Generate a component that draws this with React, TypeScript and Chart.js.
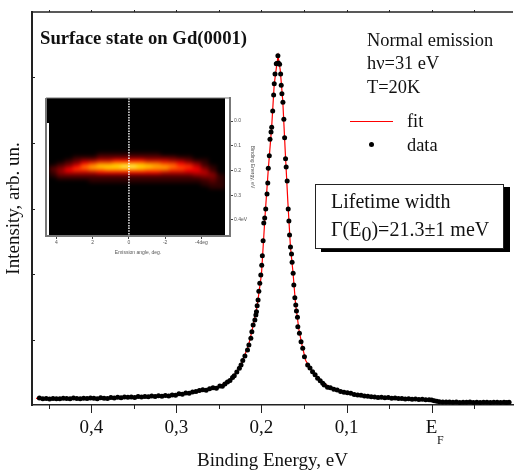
import React, { useEffect, useRef } from "react";
import { Chart, registerables } from "chart.js";

Chart.register(...registerables);

const SERIF = "'Liberation Serif', serif";
const SANS = "'Liberation Sans', sans-serif";

const dataEnergy = [
  0.461, 0.457, 0.453, 0.449, 0.445, 0.441, 0.437, 0.433, 0.429, 0.425, 0.421, 0.417, 0.413, 0.409, 0.405, 0.401, 0.397, 0.393, 0.389, 0.385,
  0.381, 0.377, 0.373, 0.369, 0.365, 0.361, 0.357, 0.353, 0.349, 0.345, 0.341, 0.337, 0.333, 0.329, 0.325, 0.321, 0.317, 0.313, 0.309, 0.305,
  0.301, 0.297, 0.293, 0.289, 0.285, 0.281, 0.277, 0.273, 0.269, 0.265, 0.261, 0.257, 0.253, 0.249, 0.246, 0.243, 0.24, 0.237, 0.234, 0.232,
  0.229, 0.226, 0.224, 0.222, 0.2195, 0.2164, 0.2148, 0.2125, 0.2113, 0.2098, 0.2078, 0.2066, 0.2059, 0.2051, 0.204, 0.2031, 0.202, 0.2008,
  0.1997, 0.199, 0.1981, 0.1973, 0.1962, 0.195, 0.1935, 0.1926, 0.192, 0.1908, 0.19, 0.1888, 0.188, 0.1868, 0.1857, 0.185, 0.1841, 0.1826,
  0.1818, 0.1807, 0.1801, 0.1787, 0.1775, 0.1768, 0.176, 0.1748, 0.1737, 0.1728, 0.1717, 0.171, 0.1698, 0.1686, 0.1678, 0.167, 0.1659, 0.1647,
  0.164, 0.1628, 0.162, 0.1608, 0.1597, 0.1589, 0.1577, 0.1573, 0.1554, 0.1535, 0.1515, 0.1495, 0.1457, 0.143, 0.14, 0.137, 0.134, 0.131,
  0.128, 0.1262, 0.1224, 0.119, 0.115, 0.111, 0.107, 0.103, 0.099, 0.095, 0.091, 0.087, 0.083, 0.079, 0.075, 0.071, 0.067, 0.063, 0.059, 0.055,
  0.051, 0.047, 0.043, 0.039, 0.035, 0.031, 0.027, 0.023, 0.019, 0.015, 0.011, 0.007, 0.003, 0, -0.003, -0.006, -0.009, -0.013, -0.017, -0.021,
  -0.025, -0.029, -0.033, -0.037, -0.041, -0.045, -0.049, -0.053, -0.057, -0.061, -0.065, -0.069, -0.073, -0.077, -0.081, -0.085, -0.088, -0.091,
];
const dataIntensity = [
  0.105, 0.095, 0.098, 0.092, 0.101, 0.097, 0.094, 0.104, 0.099, 0.095, 0.106, 0.101, 0.096, 0.103, 0.098, 0.108, 0.102, 0.097, 0.11, 0.104,
  0.099, 0.113, 0.106, 0.118, 0.11, 0.124, 0.117, 0.122, 0.114, 0.128, 0.121, 0.131, 0.125, 0.137, 0.13, 0.141, 0.134, 0.146, 0.139, 0.152,
  0.147, 0.172, 0.165, 0.185, 0.178, 0.199, 0.206, 0.222, 0.231, 0.226, 0.248, 0.262, 0.256, 0.291, 0.288, 0.321, 0.352, 0.375, 0.418, 0.446,
  0.502, 0.56, 0.612, 0.68, 0.748, 0.84, 0.916, 1.018, 1.119, 1.221, 1.298, 1.374, 1.424, 1.516, 1.603, 1.736, 1.858, 1.985,
  2.133, 2.279, 2.508, 2.779, 2.855, 2.992, 3.221, 3.389, 3.614, 3.806, 4.056, 4.168, 4.24, 4.489, 4.733, 4.905, 5.053, 5.211,
  5.214, 5.333, 5.22, 5.202, 5.053, 4.881, 4.753, 4.621, 4.362, 4.081, 3.76, 3.634, 3.42, 2.992, 2.809, 2.595, 2.412, 2.305,
  2.179, 2.011, 1.832, 1.638, 1.527, 1.435, 1.339, 1.195, 1.095, 0.966, 0.866, 0.737, 0.611, 0.565, 0.508, 0.462, 0.408, 0.372,
  0.331, 0.305, 0.27, 0.262, 0.24, 0.228, 0.205, 0.194, 0.186, 0.178, 0.16, 0.153, 0.149, 0.138, 0.135, 0.127, 0.124, 0.116, 0.118, 0.11,
  0.113, 0.104, 0.107, 0.099, 0.101, 0.093, 0.096, 0.088, 0.091, 0.085, 0.087, 0.08, 0.079, 0.076, 0.065, 0.056, 0.051, 0.047, 0.044, 0.046,
  0.042, 0.044, 0.04, 0.043, 0.041, 0.044, 0.04, 0.042, 0.039, 0.043, 0.041, 0.04, 0.043, 0.041, 0.039, 0.042, 0.04, 0.041,
];
const fitEnergy = [0.465, 0.4, 0.35, 0.3, 0.27, 0.25, 0.235, 0.225, 0.215, 0.21, 0.205, 0.2, 0.196, 0.192, 0.188, 0.185, 0.182, 0.1805, 0.178, 0.175, 0.172, 0.169, 0.166, 0.163, 0.16, 0.156, 0.152, 0.148, 0.14, 0.13, 0.12, 0.1, 0.06, 0.02, 0, -0.01, -0.04, -0.09];
const fitIntensity = [0.1, 0.105, 0.12, 0.15, 0.21, 0.28, 0.41, 0.58, 0.92, 1.2, 1.52, 2.0, 2.85, 3.6, 4.25, 4.9, 5.2, 5.33, 5.12, 4.65, 3.85, 3.1, 2.42, 2.03, 1.55, 1.15, 0.89, 0.68, 0.5, 0.37, 0.27, 0.19, 0.115, 0.085, 0.076, 0.05, 0.041, 0.041];

const xMajorTicks = [0.4, 0.3, 0.2, 0.1, 0];
const xTickLabels = ["0,4", "0,3", "0,2", "0,1", "E"];
const xMinorTicks = [0.45, 0.35, 0.25, 0.15, 0.05, -0.05];
const yTicks = [1, 2, 3, 4, 5];

const heatAngles = [4.2, 3.76, 3.32, 2.87, 2.43, 1.99, 1.55, 1.1, 0.66, 0.22, -0.22, -0.66, -1.1, -1.55, -1.99, -2.43, -2.87, -3.32, -3.76, -4.2, -4.65, -5.09];
const heatRowEnergies = [0.121, 0.133, 0.145, 0.158, 0.17, 0.182, 0.194, 0.206, 0.218, 0.23, 0.242, 0.255, 0.267];
const heatRows = [
  [0, 0, 0, 0, 0, 0, 0, 0, 0, 0, 0, 0, 0, 0, 0, 0, 0, 0, 0, 0, 0, 0],
  [0, 0, 0, 0, 0, 0, 1, 1, 1, 1, 1, 1, 1, 1, 0, 0, 0, 0, 0, 0, 0, 0],
  [0, 0, 0, 1, 1, 1, 2, 2, 2, 2, 2, 2, 2, 2, 2, 2, 1, 1, 0, 0, 0, 0],
  [0, 0, 1, 2, 3, 3, 4, 4, 5, 5, 5, 5, 4, 4, 4, 3, 3, 2, 1, 1, 0, 0],
  [0, 1, 2, 3, 5, 6, 7, 7, 8, 8, 8, 8, 7, 7, 6, 6, 5, 4, 3, 1, 0, 0],
  [1, 2, 3, 5, 7, 8, 9, 9, 9, 10, 10, 9, 9, 8, 8, 7, 6, 6, 4, 2, 1, 0],
  [2, 3, 5, 6, 6, 7, 7, 8, 8, 8, 8, 8, 7, 7, 7, 6, 6, 5, 5, 3, 1, 0],
  [1, 3, 4, 4, 4, 4, 5, 5, 5, 5, 5, 5, 5, 5, 4, 4, 4, 4, 4, 4, 2, 0],
  [1, 2, 2, 2, 2, 2, 2, 2, 2, 2, 2, 2, 2, 2, 2, 2, 2, 2, 3, 3, 3, 1],
  [0, 1, 1, 1, 1, 1, 1, 1, 1, 1, 1, 1, 1, 1, 1, 1, 1, 1, 1, 2, 2, 1],
  [0, 0, 0, 0, 0, 1, 1, 1, 1, 1, 1, 1, 1, 1, 1, 1, 1, 1, 1, 1, 2, 1],
  [0, 0, 0, 0, 0, 0, 0, 0, 0, 0, 0, 0, 0, 0, 0, 0, 0, 0, 0, 1, 1, 1],
  [0, 0, 0, 0, 0, 0, 0, 0, 0, 0, 0, 0, 0, 0, 0, 0, 0, 0, 0, 0, 1, 1],
];
const hotColors = ["#000000", "#300000", "#600000", "#900000", "#c00000", "#ff0000", "#ff4000", "#ff8000", "#ffb000", "#ffe000", "#ffff60"];

const insetXTicks = [4, 2, 0, -2, -4];
const insetXLabels = ["4", "2", "0", "-2", "-4deg"];
const insetYTicks = [0, 0.1, 0.2, 0.3, 0.4];
const insetYLabels = ["0.0", "0.1", "0.2", "0.3", "0.4eV"];
const insetCutX = [0, 0];
const insetCutY = [-0.093, 0.465];

const EMIN = -0.0956;
const EMAX = 0.4697;

const text = (left: number, top: number, size: number, extra: any = {}) => ({
  position: "absolute" as const,
  left,
  top,
  fontFamily: SERIF,
  fontSize: size,
  lineHeight: "1",
  color: "#111",
  whiteSpace: "nowrap" as const,
  ...extra,
});

export default function App() {
  const mainRef = useRef<HTMLCanvasElement>(null);
  const heatRef = useRef<HTMLCanvasElement>(null);
  const insetRef = useRef<HTMLCanvasElement>(null);

  useEffect(() => {
    const framePlugin = {
      id: "frame",
      afterDraw(c: any) {
        const { ctx, chartArea: a, scales } = c;
        ctx.save();
        ctx.strokeStyle = "#222";
        ctx.lineWidth = 2;
        ctx.beginPath();
        ctx.moveTo(a.left, a.top - 1);
        ctx.lineTo(a.left, a.bottom + 1);
        ctx.stroke();
        ctx.lineWidth = 1.5;
        ctx.beginPath();
        ctx.moveTo(a.left, a.top);
        ctx.lineTo(a.right, a.top);
        ctx.stroke();
        const xt = (v: number, len: number, topLen: number) => {
          const p = Math.round(scales.x.getPixelForValue(v)) + 0.5;
          ctx.beginPath();
          ctx.moveTo(p, a.bottom);
          ctx.lineTo(p, a.bottom + len);
          ctx.moveTo(p, a.top);
          ctx.lineTo(p, a.top - topLen);
          ctx.stroke();
        };
        ctx.lineWidth = 1;
        xMajorTicks.forEach((v) => xt(v, 8, 2));
        xMinorTicks.forEach((v) => xt(v, 4, 2));
        yTicks.forEach((v) => {
          const p = Math.round(scales.y.getPixelForValue(v)) + 0.5;
          ctx.beginPath();
          ctx.moveTo(a.left, p);
          ctx.lineTo(a.left + 3, p);
          ctx.stroke();
        });
        ctx.restore();
      },
    };

    const main = new Chart(mainRef.current!, {
      type: "scatter",
      data: {
        datasets: [
          {
            label: "fit",
            data: fitEnergy.map((x, i) => ({ x, y: fitIntensity[i] })),
            showLine: true,
            borderColor: "#ff0000",
            borderWidth: 1.2,
            pointRadius: 0,
            order: 2,
          },
          {
            label: "data",
            data: dataEnergy.map((x, i) => ({ x, y: dataIntensity[i] })),
            backgroundColor: "#000",
            borderColor: "#000",
            pointRadius: 2.5,
            pointBorderWidth: 0,
            order: 1,
          },
        ],
      },
      options: {
        animation: false,
        responsive: false,
        layout: { padding: { top: 12, left: 0, right: 0, bottom: 0 } },
        plugins: { legend: { display: false }, tooltip: { enabled: false } },
        scales: {
          x: {
            type: "linear",
            reverse: true,
            min: EMIN,
            max: EMAX,
            afterBuildTicks: (s: any) => {
              s.ticks = xMajorTicks.map((value) => ({ value }));
            },
            afterFit: (s: any) => {
              s.height = 67;
            },
            grid: { display: false, drawTicks: false },
            border: { display: true, color: "#222", width: 1.5 },
            ticks: {
              autoSkip: false,
              maxRotation: 0,
              padding: 12,
              color: "#111",
              font: { family: SERIF, size: 19 },
              callback: (v: any) => {
                const i = xMajorTicks.findIndex((t) => Math.abs(t - Number(v)) < 1e-6);
                return i >= 0 ? xTickLabels[i] : "";
              },
            },
            title: {
              display: true,
              text: "Binding Energy, eV",
              color: "#111",
              font: { family: SERIF, size: 19 },
              padding: { top: 0, bottom: 0 },
            },
          },
          y: {
            type: "linear",
            min: 0,
            max: 6,
            afterFit: (s: any) => {
              s.width = 32;
            },
            grid: { display: false, drawTicks: false },
            border: { display: false },
            ticks: { display: false, stepSize: 1 },
            title: {
              display: true,
              text: "Intensity, arb. un.",
              color: "#111",
              font: { family: SERIF, size: 19 },
              padding: { top: 3, bottom: 0 },
            },
          },
        },
      },
      plugins: [framePlugin],
    } as any);

    const heat = new Chart(heatRef.current!, {
      type: "bar",
      data: {
        labels: heatAngles,
        datasets: heatRows.map((row, r) => ({
          label: String(heatRowEnergies[r]),
          data: row.map(() => [heatRowEnergies[r] - 0.0065, heatRowEnergies[r] + 0.0065]),
          backgroundColor: row.map((v) => hotColors[v]),
          grouped: false,
          barPercentage: 1,
          categoryPercentage: 1,
          borderWidth: 0,
        })),
      },
      options: {
        animation: false,
        responsive: false,
        layout: { padding: 0 },
        plugins: { legend: { display: false }, tooltip: { enabled: false } },
        scales: {
          x: { display: false },
          y: { display: false, type: "linear", min: -0.093, max: 0.465, reverse: true },
        },
      },
    } as any);

    const insetFrame = {
      id: "insetFrame",
      afterDraw(c: any) {
        const { ctx, chartArea: a } = c;
        ctx.save();
        ctx.strokeStyle = "#777";
        ctx.lineWidth = 2;
        ctx.beginPath();
        ctx.moveTo(a.left, a.top);
        ctx.lineTo(a.left, a.bottom);
        ctx.stroke();
        ctx.lineWidth = 1.2;
        ctx.beginPath();
        ctx.moveTo(a.left, a.top);
        ctx.lineTo(a.right, a.top);
        ctx.stroke();
        ctx.restore();
      },
    };

    const inset = new Chart(insetRef.current!, {
      type: "scatter",
      data: {
        datasets: [
          {
            label: "cut",
            data: insetCutX.map((x, i) => ({ x, y: insetCutY[i] })),
            showLine: true,
            borderColor: "#fff",
            borderWidth: 1.4,
            borderDash: [1.5, 1.2],
            pointRadius: 0,
          },
        ],
      },
      options: {
        animation: false,
        responsive: false,
        layout: { padding: { left: 46, top: 98, right: 262, bottom: 216 } },
        plugins: { legend: { display: false }, tooltip: { enabled: false } },
        scales: {
          x: {
            type: "linear",
            reverse: true,
            min: -5.58,
            max: 4.58,
            afterBuildTicks: (s: any) => {
              s.ticks = insetXTicks.map((value) => ({ value }));
            },
            afterFit: (s: any) => {
              s.height = 20;
            },
            grid: { drawOnChartArea: false, tickLength: 3, color: "#444" },
            border: { color: "#777", width: 2 },
            ticks: {
              autoSkip: false,
              maxRotation: 0,
              padding: 1,
              color: "#555",
              font: { family: SANS, size: 5 },
              callback: (v: any) => {
                const i = insetXTicks.indexOf(Number(v));
                return i >= 0 ? insetXLabels[i] : "";
              },
            },
            title: {
              display: true,
              text: "Emission angle, deg.",
              color: "#555",
              font: { family: SANS, size: 5 },
              padding: { top: 0, bottom: 0 },
            },
          },
          y: {
            type: "linear",
            position: "right",
            reverse: true,
            min: -0.093,
            max: 0.465,
            afterBuildTicks: (s: any) => {
              s.ticks = insetYTicks.map((value) => ({ value }));
            },
            afterFit: (s: any) => {
              s.width = 25;
            },
            grid: { drawOnChartArea: false, tickLength: 3, color: "#444" },
            border: { color: "#777", width: 2 },
            ticks: {
              autoSkip: false,
              padding: 1,
              color: "#555",
              font: { family: SANS, size: 5 },
              callback: (v: any) => {
                const i = insetYTicks.findIndex((t) => Math.abs(t - Number(v)) < 1e-6);
                return i >= 0 ? insetYLabels[i] : "";
              },
            },
            title: {
              display: true,
              text: "Binding Energy, eV",
              color: "#555",
              font: { family: SANS, size: 5 },
              padding: { top: 0, bottom: 0 },
            },
          },
        },
      },
      plugins: [insetFrame],
    } as any);

    return () => {
      main.destroy();
      heat.destroy();
      inset.destroy();
    };
  }, []);

  return (
    <div style={{ position: "absolute", left: 0, top: 0, width: 517, height: 472, overflow: "hidden", background: "#fff" }}>
      <canvas ref={mainRef} width={517} height={472} style={{ position: "absolute", left: 0, top: 0 }} />
      <div style={{ position: "absolute", left: 47, top: 98, width: 2, height: 25, background: "#000" }} />
      <div style={{ position: "absolute", left: 49, top: 98, width: 176, height: 138, background: "#000", overflow: "hidden" }}>
        <canvas ref={heatRef} width={176} height={138} style={{ position: "absolute", left: 0, top: 0, filter: "blur(2px)" }} />
      </div>
      <canvas ref={insetRef} width={517} height={472} style={{ position: "absolute", left: 0, top: 0 }} />

      <div style={text(40, 29, 18.7, { fontWeight: "bold" })}>Surface state on Gd(0001)</div>
      <div style={text(367, 31, 18.4)}>Normal emission</div>
      <div style={text(367, 54, 18.4)}>hν=31 eV</div>
      <div style={text(367, 78, 18.4)}>T=20K</div>

      <div style={{ position: "absolute", left: 350, top: 121, width: 43, height: 1, background: "#ff0000" }} />
      <div style={text(407, 112, 18.4)}>fit</div>
      <div style={{ position: "absolute", left: 368.5, top: 141.5, width: 5, height: 5, borderRadius: "50%", background: "#000" }} />
      <div style={text(407, 136, 18.4)}>data</div>

      <div
        style={{
          position: "absolute",
          left: 315,
          top: 184,
          width: 187,
          height: 63,
          background: "#fff",
          border: "1px solid #222",
          boxShadow: "6px 3px 0 #000",
        }}
      />
      <div style={text(331, 191, 20)}>Lifetime width</div>
      <div style={text(331, 219, 20)}>
        Γ(E<span style={{ fontSize: 20, position: "relative", top: 5 }}>0</span>)=21.3±1 meV
      </div>

      <div style={text(437, 434, 12)}>F</div>
    </div>
  );
}
